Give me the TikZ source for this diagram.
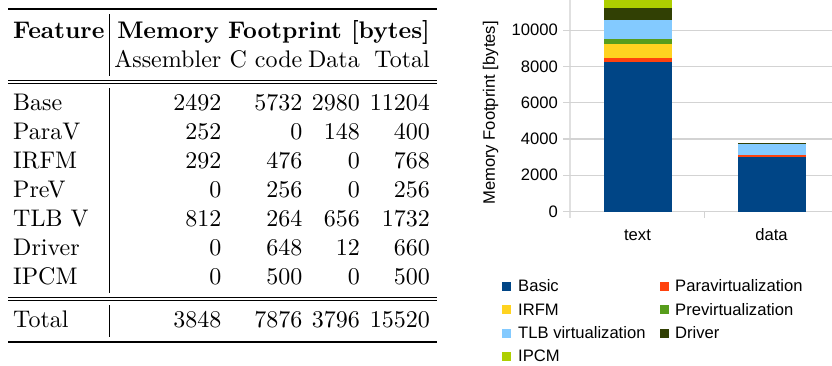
\documentclass[tikz,border=0pt]{standalone}
\usepackage{fontspec}
\newfontfamily\chartfont{Liberation Sans}
\newcommand\tabtext[1]{\scalebox{2.4}{#1}}
\definecolor{cBasic}{HTML}{004586}
\definecolor{cPara}{HTML}{FF420E}
\definecolor{cIRFM}{HTML}{FFD320}
\definecolor{cPreV}{HTML}{579D1C}
\definecolor{cTLB}{HTML}{83CAFF}
\definecolor{cDriver}{HTML}{314004}
\definecolor{cIPCM}{HTML}{AECF00}
\definecolor{gridgray}{HTML}{D3D3D3}
\definecolor{axisgray}{HTML}{E0E0E0}
\begin{document}
\begin{tikzpicture}[x=1pt,y=-1pt,
  tab/.style={inner sep=0pt,font=\normalsize},
  tabr/.style={tab,anchor=base east},
  tabl/.style={tab,anchor=base west},
  thickrule/.style={line width=1.5pt},
  thinrule/.style={line width=0.8pt},
  vrule/.style={line width=0.8pt},
  chart/.style={inner sep=0pt,font=\chartfont\fontsize{16.6}{19}\selectfont},
  gridline/.style={draw=gridgray,line width=1.2pt},
  legsq/.style={minimum size=9pt,inner sep=0pt,draw=none}]
\useasboundingbox (0,0) rectangle (832,365);
\clip (0,0) rectangle (832,365);
\fill[white] (0,0) rectangle (832,365);

% ---------------- table ----------------
\draw[thickrule] (8,9) -- (437,9);
\draw[thinrule] (8,80) -- (437,80);
\draw[thinrule] (8,83.5) -- (437,83.5);
\draw[thinrule] (8,297) -- (437,297);
\draw[thinrule] (8,300.5) -- (437,300.5);
\draw[thickrule] (8,342) -- (437,342);
\draw[vrule] (109.5,14) -- (109.5,76);
\draw[vrule] (109.5,88) -- (109.5,293);
\draw[vrule] (109.5,305) -- (109.5,337);

\node[tabl] (hfeat) at (13,38) {\tabtext{\bfseries Feature}};
\node[tabr] (hmem) at (430,38) {\tabtext{\bfseries Memory Footprint [bytes]}};
\node[tabr] (hasm) at (221.5,67) {\tabtext{Assembler}};
\node[tabr] (hc) at (302.5,67) {\tabtext{C code}};
\node[tabr] (hdata) at (360,67) {\tabtext{Data}};
\node[tabr] (htot) at (430,67) {\tabtext{Total}};

\foreach \lab/\a/\b/\c/\d [count=\i] in {Base/2492/5732/2980/11204,
  ParaV/252/0/148/400, IRFM/292/476/0/768, PreV/0/256/0/256,
  TLB V/812/264/656/1732, Driver/0/648/12/660, IPCM/0/500/0/500}{
  \pgfmathsetmacro\yy{110+29*(\i-1)}
  \node[tabl] (r\i-l) at (13,\yy) {\tabtext{\lab}};
  \node[tabr] (r\i-a) at (221.5,\yy) {\tabtext{\a}};
  \node[tabr] (r\i-b) at (302.5,\yy) {\tabtext{\b}};
  \node[tabr] (r\i-c) at (360,\yy) {\tabtext{\c}};
  \node[tabr] (r\i-d) at (430,\yy) {\tabtext{\d}};
}
\node[tabl] (tl) at (13,327) {\tabtext{Total}};
\node[tabr] (ta) at (221.5,327) {\tabtext{3848}};
\node[tabr] (tb) at (302.5,327) {\tabtext{7876}};
\node[tabr] (tc) at (360,327) {\tabtext{3796}};
\node[tabr] (td) at (430,327) {\tabtext{15520}};

% ---------------- chart ----------------
\draw[axisgray,line width=2.5pt] (570,-2) -- (570,218);
\draw[gridgray,line width=1.2pt] (704.3,211.5) -- (704.3,218);
\begin{scope}[shift={(0,211.5)},y=0.018125pt]
  \foreach \v in {0,2000,...,12000}{
    \draw[gridline] (563,\v) -- (832,\v);
    \node[chart,anchor=east] (tick\v) at (558,\v) {\v};
  }
  % text bar
  \fill[cBasic]  (603.5,0)     rectangle (671.5,8224);
  \fill[cPara]   (603.5,8224)  rectangle (671.5,8476);
  \fill[cIRFM]   (603.5,8476)  rectangle (671.5,9244);
  \fill[cPreV]   (603.5,9244)  rectangle (671.5,9500);
  \fill[cTLB]    (603.5,9500)  rectangle (671.5,10576);
  \fill[cDriver] (603.5,10576) rectangle (671.5,11224);
  \fill[cIPCM]   (603.5,11224) rectangle (671.5,11724);
  % data bar
  \fill[cBasic]  (737.5,0)    rectangle (805.5,2980);
  \fill[cPara]   (737.5,2980) rectangle (805.5,3128);
  \fill[cTLB]    (737.5,3128) rectangle (805.5,3784);
  \fill[cDriver] (737.5,3784) rectangle (805.5,3796);
\end{scope}

\node[chart,anchor=base] (ctext) at (637.5,240) {text};
\node[chart,anchor=base] (cdata) at (771.5,240) {data};
\node[chart,rotate=90] (ylab) at (490.5,113) {Memory Footprint [bytes]};

% legend
\node[legsq,fill=cBasic]  (s1) at (506.5,286) {};
\node[chart,anchor=west]  (l1) at (518,286) {Basic};
\node[legsq,fill=cIRFM]   (s2) at (506.5,309.5) {};
\node[chart,anchor=west]  (l2) at (518,309.5) {IRFM};
\node[legsq,fill=cTLB]    (s3) at (506.5,333) {};
\node[chart,anchor=west]  (l3) at (518,333) {TLB virtualization};
\node[legsq,fill=cIPCM]   (s4) at (506.5,356) {};
\node[chart,anchor=west]  (l4) at (518,356) {IPCM};
\node[legsq,fill=cPara]   (s5) at (664.5,286) {};
\node[chart,anchor=west]  (l5) at (675,286) {Paravirtualization};
\node[legsq,fill=cPreV]   (s6) at (664.5,309.5) {};
\node[chart,anchor=west]  (l6) at (675,309.5) {Previrtualization};
\node[legsq,fill=cDriver] (s7) at (664.5,333) {};
\node[chart,anchor=west]  (l7) at (675,333) {Driver};
\end{tikzpicture}
\end{document}
